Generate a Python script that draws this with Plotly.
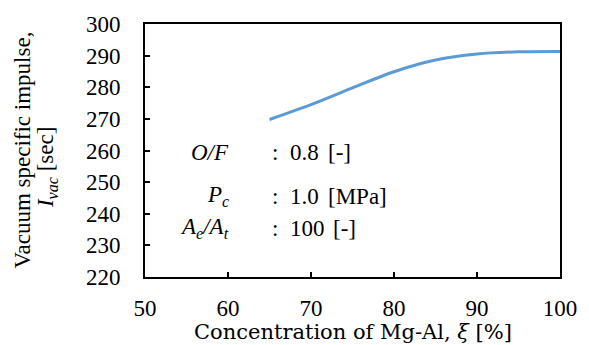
import plotly.graph_objects as go

# Data
concentration = [65, 70, 75, 80, 85, 90, 95, 100]
isp_vac = [269.8, 274.5, 279.8, 284.9, 288.6, 290.5, 291.2, 291.3]

x_ticks = [50, 60, 70, 80, 90, 100]
y_ticks = [220, 230, 240, 250, 260, 270, 280, 290, 300]

serif = "Liberation Serif"

fig = go.Figure()
fig.add_trace(go.Scatter(
    x=concentration, y=isp_vac, mode="lines",
    line=dict(color="#5B9BD5", width=3, shape="spline", smoothing=0.8),
    showlegend=False, hoverinfo="skip"))

axis_common = dict(
    showgrid=False, zeroline=False,
    showline=True, linecolor="black", linewidth=2, mirror=True,
    ticks="inside", ticklen=5, tickwidth=2, tickcolor="black",
    tickfont=dict(family=serif, size=23, color="black"),
)

fig.update_xaxes(range=[50, 100], tickvals=x_ticks, ticklabelstandoff=9, **axis_common)
fig.update_yaxes(range=[220, 300], tickvals=y_ticks, ticklabelstandoff=18, **axis_common)

W, H = 589, 345
ml, mr, mt, mb = 145, 22, 23, 68

def px(xp):
    return (xp - ml) / (W - ml - mr)

def py(yp):
    return 1 - (yp - mt) / (H - mt - mb)

annos = []
# Y-axis title (two lines)
annos.append(dict(text="Vacuum specific impulse,", x=px(20), y=py(150), xref="paper", yref="paper",
                  textangle=-90, showarrow=False, xanchor="center", yanchor="middle",
                  font=dict(family=serif, size=23, color="black")))
annos.append(dict(text="<i>I</i><sub><i>vac</i></sub> [sec]", x=px(46), y=py(167), xref="paper", yref="paper",
                  textangle=-90, showarrow=False, xanchor="center", yanchor="middle",
                  font=dict(family=serif, size=23, color="black")))
# X-axis title
annos.append(dict(text="Concentration of Mg-Al, <i>ξ</i> [%]", x=px(356), y=py(332), xref="paper", yref="paper",
                  showarrow=False, xanchor="center", yanchor="middle",
                  font=dict(family="DejaVu Serif", size=21, color="black")))

# Condition table
rows_label = ["<i>O/F</i>", "<i>P</i><sub><i>c</i></sub>", "<i>A</i><sub><i>e</i></sub><i>/A</i><sub><i>t</i></sub>"]
rows_value = ["0.8", "1.0", "100"]
rows_unit = ["[-]", "[MPa]", "[-]"]
rows_y = [152, 196, 228]
tf = dict(family=serif, size=23, color="black")
for lab, val, unit, yy in zip(rows_label, rows_value, rows_unit, rows_y):
    annos.append(dict(text=lab, x=px(232), y=py(yy), xref="paper", yref="paper", showarrow=False,
                      xanchor="right", yanchor="middle", font=tf))
    annos.append(dict(text=":", x=px(277), y=py(yy), xref="paper", yref="paper", showarrow=False,
                      xanchor="center", yanchor="middle", font=tf))
    annos.append(dict(text=val, x=px(290), y=py(yy), xref="paper", yref="paper", showarrow=False,
                      xanchor="left", yanchor="middle", font=tf))
    annos.append(dict(text=unit, x=px(334 if val == "100" else 329), y=py(yy),
                      xref="paper", yref="paper", showarrow=False,
                      xanchor="left", yanchor="middle", font=tf))

fig.update_layout(
    width=W, height=H,
    margin=dict(l=ml, r=mr, t=mt, b=mb),
    paper_bgcolor="white", plot_bgcolor="white",
    annotations=annos,
)

fig.write_html("out.html")
